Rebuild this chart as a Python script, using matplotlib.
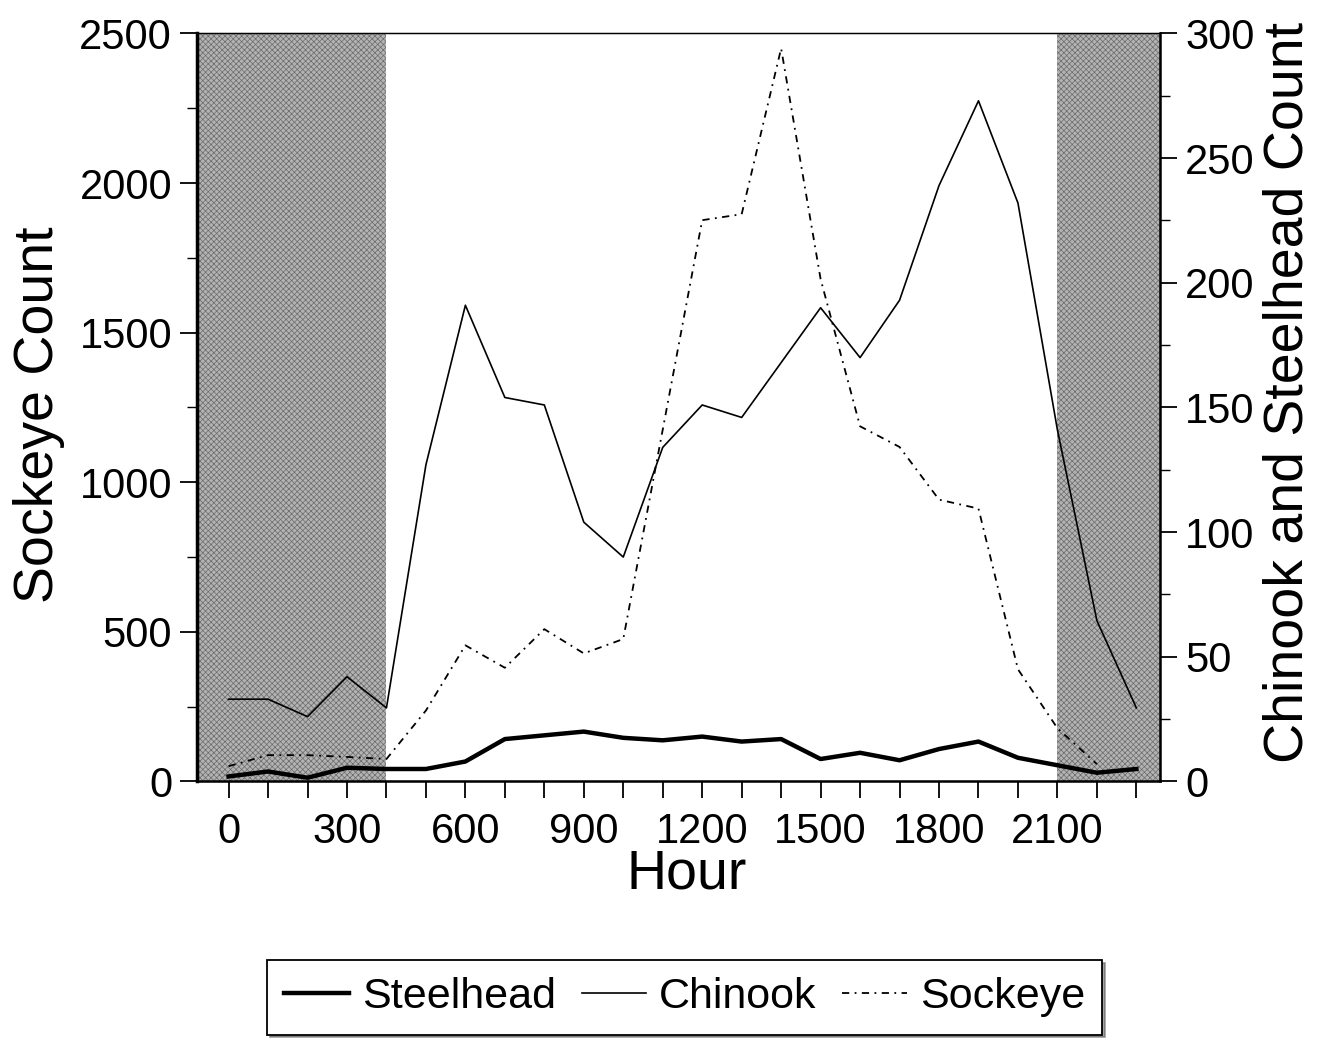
import numpy as np
import matplotlib
matplotlib.use("Agg")
import matplotlib.pyplot as plt
from matplotlib import font_manager

plt.rcParams['font.family'] = ['Liberation Sans', 'DejaVu Sans']
plt.rcParams['hatch.linewidth'] = 0.5

# condensed face for the big labels, if it is there
names = {f.name for f in font_manager.fontManager.ttflist}
narrow = 'Liberation Sans Narrow' if 'Liberation Sans Narrow' in names else 'Liberation Sans'
label_stretch = 'normal' if narrow != 'Liberation Sans' else 'condensed'

# hourly counts
hours = [0, 100, 200, 300, 400, 500, 600, 700, 800, 900, 1000, 1100,
         1200, 1300, 1400, 1500, 1600, 1700, 1800, 1900, 2000, 2100, 2200, 2300]
steelhead = [2, 4, 1.5, 5.5, 5, 5, 8, 17, 18.5, 20, 17.5, 16.5,
             18, 16, 17, 9, 11.5, 8.5, 13, 16, 9.5, 6.5, 3.5, 5]
chinook = [33, 33, 26, 42, 29.5, 127, 191, 154, 151, 104, 90, 134,
           151, 146, 168, 190, 170, 193, 239, 273, 232, 141, 64.5, 29.5]
sockeye_hours = hours[:23]
sockeye = [51, 88, 88, 82, 75, 237, 455, 380, 509, 428, 476, 1176,
           1876, 1896, 2450, 1679, 1187, 1118, 942, 912, 375, 178, 58]

# night periods (shaded)
night = [(-80, 400), (2100, 2360)]

xtick_pos = list(range(0, 2400, 100))
xtick_lab = [str(h) if h % 300 == 0 and h <= 2100 else '' for h in xtick_pos]

fig = plt.figure(figsize=(13.32, 10.4), dpi=100)
ax = fig.add_axes([0.1479, 0.2486, 0.723, 0.7192])
ax2 = ax.twinx()

for a, b in night:
    ax.axvspan(a, b, facecolor='0.7', edgecolor='0.42', hatch='xxxxxx',
               linewidth=0, zorder=0)

sock_line, = ax.plot(sockeye_hours, sockeye, color='black', lw=1.3,
                     linestyle=(0, (4, 3, 1, 3)), label='Sockeye')
l1, = ax2.plot(hours, steelhead, color='black', lw=3.2, label='Steelhead')
l2, = ax2.plot(hours, chinook, color='black', lw=1.2, label='Chinook')

ax.set_xlim(-80, 2360)
ax.set_ylim(0, 2500)
ax2.set_ylim(0, 300)

ax.set_yticks(range(0, 2501, 500))
ax.set_yticks(range(250, 2500, 500), minor=True)
ax2.set_yticks(range(0, 301, 50))
ax2.set_yticks(range(25, 300, 50), minor=True)
ax.set_xticks(xtick_pos)
ax.set_xticklabels(xtick_lab)

ax.tick_params(axis='both', which='major', direction='out', length=12,
               width=1.3, labelsize=30, pad=6)
ax.tick_params(axis='x', which='major', pad=10)
ax.tick_params(axis='y', which='minor', direction='out', length=7, width=1.0)
ax2.tick_params(axis='y', which='major', direction='out', length=12,
                width=1.3, labelsize=30, pad=6)
ax2.tick_params(axis='y', which='minor', direction='out', length=7, width=1.0)

ax.spines['left'].set_linewidth(2.5)
ax.spines['bottom'].set_linewidth(1.8)
ax.spines['top'].set_linewidth(1.0)
ax2.spines['right'].set_linewidth(1.8)

lab_font = dict(family=narrow, stretch=label_stretch, size=40)
ax.set_ylabel('Sockeye Count', fontdict=lab_font)
ax2.set_ylabel('Chinook and Steelhead Count', fontdict=lab_font)
ax.set_xlabel('Hour', fontdict=lab_font)
ax.yaxis.set_label_coords(-0.137, 0.49)
ax2.yaxis.set_label_coords(1.106, 0.52)
ax.xaxis.set_label_coords(0.508, -0.09)

leg = fig.legend([l1, l2, sock_line], ['Steelhead', 'Chinook', 'Sockeye'],
                 loc='center', bbox_to_anchor=(0.514, 0.041), ncol=3,
                 prop=dict(family=narrow, size=31), frameon=True,
                 fancybox=False, shadow=True, edgecolor='black',
                 handlelength=1.5, handletextpad=0.3,
                 columnspacing=0.6, borderpad=0.4)
leg.get_frame().set_linewidth(1.3)

fig.savefig('out.png', dpi=100)
